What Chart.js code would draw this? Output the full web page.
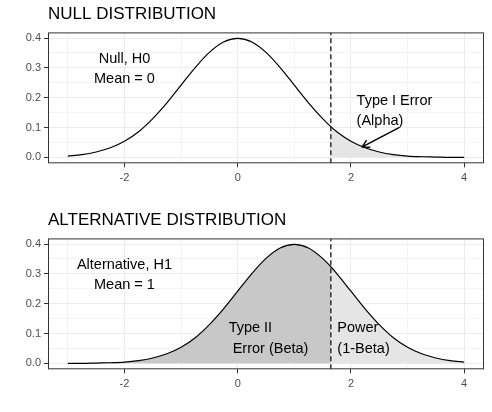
<!DOCTYPE html>
<html>
<head>
<meta charset="utf-8">
<script src="https://cdn.jsdelivr.net/npm/chart.js@4/dist/chart.umd.min.js"></script>
<style>
  html, body { margin: 0; padding: 0; background: #fff; }
  canvas { display: block; }
</style>
</head>
<body>
<canvas id="nullChart" width="492" height="206"></canvas>
<canvas id="altChart" width="492" height="206"></canvas>
<script>
// values
const xValues = [-3, -2.75, -2.5, -2.25, -2, -1.75, -1.5, -1.25, -1, -0.75, -0.5, -0.25,
  0, 0.25, 0.5, 0.75, 1, 1.25, 1.5, 1.645, 1.75, 2, 2.25, 2.5, 2.75, 3, 3.25, 3.5, 3.75, 4];
const nullDensity = [0.004, 0.009, 0.018, 0.032, 0.054, 0.086, 0.130, 0.183, 0.242, 0.301, 0.352, 0.387,
  0.399, 0.387, 0.352, 0.301, 0.242, 0.183, 0.130, 0.103, 0.086, 0.054, 0.032, 0.018, 0.009, 0.004, 0.002, 0.001, 0.000, 0.000];
const altDensity = [0.000, 0.000, 0.001, 0.002, 0.004, 0.009, 0.018, 0.032, 0.054, 0.086, 0.130, 0.183,
  0.242, 0.301, 0.352, 0.387, 0.399, 0.387, 0.352, 0.324, 0.301, 0.242, 0.183, 0.130, 0.086, 0.054, 0.032, 0.018, 0.009, 0.004];
const criticalValue = 1.645;
const xTickLabels = [-2, 0, 2, 4];
const yTickLabels = [0, 0.1, 0.2, 0.3, 0.4];

Chart.defaults.font.family = '"Liberation Sans", Arial, sans-serif';

const X_MIN = -3.35, X_MAX = 4.35, Y_MIN = -0.02, Y_MAX = 0.419;

function points(from, to, ys) {
  const out = [];
  for (let i = from; i <= to; i++) out.push({ x: xValues[i], y: ys[i] });
  return out;
}
const cutIdx = xValues.indexOf(criticalValue);
const lastIdx = xValues.length - 1;

function isMajorX(v) { return xTickLabels.some(t => Math.abs(t - v) < 1e-6); }
function isMajorY(v) { return yTickLabels.some(t => Math.abs(t - v) < 1e-6); }

function curve(ys) {
  return { data: points(0, lastIdx, ys), borderColor: '#000', borderWidth: 1.2,
    pointRadius: 0, fill: false, cubicInterpolationMode: 'monotone', order: 1 };
}
function shade(from, to, ys, color, order) {
  return { data: points(from, to, ys), borderWidth: 0, borderColor: 'rgba(0,0,0,0)',
    backgroundColor: color, pointRadius: 0, fill: 'origin', cubicInterpolationMode: 'monotone', order: order };
}
function vline() {
  return { data: [{ x: criticalValue, y: Y_MIN }, { x: criticalValue, y: Y_MAX }],
    borderColor: '#222', borderWidth: 1.4, borderDash: [5, 3], pointRadius: 0, fill: false, order: 0 };
}

const notesPlugin = {
  id: 'notes',
  afterDatasetsDraw(chart, args, opts) {
    const { ctx, chartArea, scales } = chart;
    ctx.save();
    // panel border
    ctx.strokeStyle = '#333333';
    ctx.lineWidth = 1;
    ctx.strokeRect(chartArea.left + 0.5, chartArea.top + 0.5, chartArea.width - 1, chartArea.height - 1);
    // text annotations
    ctx.fillStyle = '#000';
    ctx.font = '14.5px "Liberation Sans", Arial, sans-serif';
    ctx.textBaseline = 'alphabetic';
    (opts.texts || []).forEach(t => {
      const px = scales.x.getPixelForValue(t.x);
      const py = scales.y.getPixelForValue(t.y);
      const lh = 20.5;
      ctx.textAlign = t.align;
      t.lines.forEach((line, i) => {
        const cy = py + (i - (t.lines.length - 1) / 2) * lh;
        ctx.fillText(line, px, cy + 5.2);
      });
    });
    // arrow
    if (opts.arrow) {
      const a = opts.arrow;
      const x0 = scales.x.getPixelForValue(a.from[0]), y0 = scales.y.getPixelForValue(a.from[1]);
      const x1 = scales.x.getPixelForValue(a.to[0]), y1 = scales.y.getPixelForValue(a.to[1]);
      ctx.strokeStyle = '#000';
      ctx.lineWidth = 1.4;
      ctx.beginPath();
      ctx.moveTo(x0, y0);
      ctx.lineTo(x1, y1);
      const ang = Math.atan2(y0 - y1, x0 - x1);
      const len = 8, spread = Math.PI / 6;
      ctx.moveTo(x1 + len * Math.cos(ang + spread), y1 + len * Math.sin(ang + spread));
      ctx.lineTo(x1, y1);
      ctx.lineTo(x1 + len * Math.cos(ang - spread), y1 + len * Math.sin(ang - spread));
      ctx.stroke();
    }
    ctx.restore();
  }
};

function makePanel(id, title, datasets, texts, arrow) {
  return new Chart(document.getElementById(id).getContext('2d'), {
    type: 'line',
    data: { datasets: datasets },
    plugins: [notesPlugin],
    options: {
      responsive: false,
      animation: false,
      devicePixelRatio: 1,
      layout: { padding: { right: 8, left: 0, top: 0, bottom: 0 } },
      scales: {
        x: {
          type: 'linear', min: X_MIN, max: X_MAX,
          afterFit(scale) { scale.height = 42.7; },
          border: { display: false },
          grid: {
            color: c => isMajorX(c.tick.value) ? '#EBEBEB' : '#F4F4F4',
            lineWidth: 1,
            tickLength: 4,
            tickColor: c => isMajorX(c.tick.value) ? '#333333' : 'rgba(0,0,0,0)',
            tickWidth: 1
          },
          ticks: {
            stepSize: 1, includeBounds: false, autoSkip: false, maxRotation: 0, padding: 4,
            color: '#4D4D4D', font: { size: 11 },
            callback: v => isMajorX(v) ? String(v) : ''
          }
        },
        y: {
          type: 'linear', min: Y_MIN, max: Y_MAX,
          afterFit(scale) { scale.width = 48; },
          border: { display: false },
          grid: {
            color: c => isMajorY(c.tick.value) ? '#EBEBEB' : '#F4F4F4',
            lineWidth: 1,
            tickLength: 4,
            tickColor: c => isMajorY(c.tick.value) ? '#333333' : 'rgba(0,0,0,0)',
            tickWidth: 1
          },
          ticks: {
            stepSize: 0.05, includeBounds: false, autoSkip: false, padding: 3,
            color: '#4D4D4D', font: { size: 11 },
            callback: v => isMajorY(v) ? v.toFixed(1) : ''
          }
        }
      },
      plugins: {
        legend: { display: false },
        tooltip: { enabled: false },
        title: {
          display: true, text: title, align: 'start', fullSize: false,
          color: '#000', font: { size: 17, weight: 'normal' },
          padding: { top: 4, bottom: 8 }
        },
        notes: { texts: texts, arrow: arrow }
      }
    }
  });
}

makePanel('nullChart', 'NULL DISTRIBUTION',
  [vline(), curve(nullDensity), shade(cutIdx, lastIdx, nullDensity, '#E5E5E5', 2)],
  [
    { x: -2, y: 0.3, lines: ['Null, H0', 'Mean = 0'], align: 'center' },
    { x: 2.1, y: 0.159, lines: ['Type I Error', '(Alpha)'], align: 'left' }
  ],
  { from: [2.85, 0.1], to: [2.2, 0.035] });

makePanel('altChart', 'ALTERNATIVE DISTRIBUTION',
  [vline(), curve(altDensity), shade(0, cutIdx, altDensity, '#C8C8C8', 2), shade(cutIdx, lastIdx, altDensity, '#E5E5E5', 3)],
  [
    { x: -2, y: 0.3, lines: ['Alternative, H1', 'Mean = 1'], align: 'center' },
    { x: -0.16, y: 0.087, lines: ['Type II', ' Error (Beta)'], align: 'left' },
    { x: 1.76, y: 0.087, lines: ['Power', '(1-Beta)'], align: 'left' }
  ],
  null);
</script>
</body>
</html>
